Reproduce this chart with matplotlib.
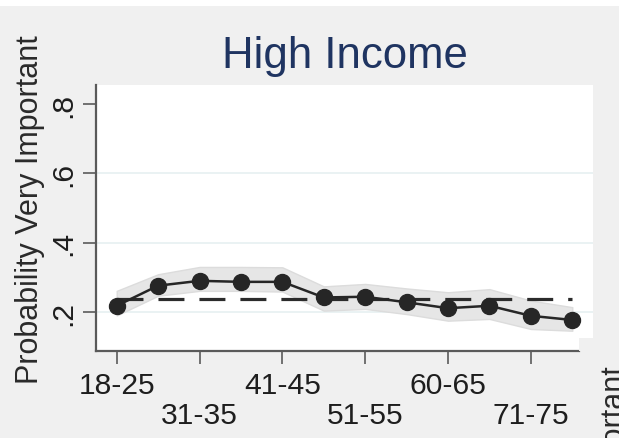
import matplotlib
matplotlib.use("Agg")
import matplotlib.pyplot as plt
from matplotlib.patches import Rectangle
from matplotlib.transforms import ScaledTranslation

plt.rcParams['font.family'] = ['Liberation Sans', 'DejaVu Sans']

# age groups (x positions are just the index)
age_groups = ["18-25", "26-30", "31-35", "36-40", "41-45", "46-50",
              "51-55", "56-59", "60-65", "66-70", "71-75", "76+"]
prob = [0.218, 0.276, 0.290, 0.287, 0.287, 0.242,
        0.244, 0.228, 0.211, 0.218, 0.189, 0.177]
ci_upper = [0.261, 0.309, 0.330, 0.330, 0.329, 0.274,
            0.281, 0.268, 0.257, 0.266, 0.233, 0.214]
ci_lower = [0.190, 0.247, 0.261, 0.261, 0.259, 0.204,
            0.209, 0.194, 0.175, 0.180, 0.151, 0.146]
mean_prob = 0.237

tick_idx = [0, 2, 4, 6, 8, 10]
tick_labels = ["18-25", "31-35", "41-45", "51-55", "60-65", "71-75"]
y_ticks = [0.2, 0.4, 0.6, 0.8]
y_tick_labels = [".2", ".4", ".6", ".8"]

bg = "#f0f0f0"
W, H = 619, 439

fig = plt.figure(figsize=(W / 100, H / 100), dpi=100, facecolor=bg)
ax = fig.add_axes([96 / W, 1 - 352 / H, (593 - 96) / W, (352 - 86) / H])
ax.set_facecolor("white")

x = list(range(len(age_groups)))

# confidence band
ax.fill_between(x, ci_lower, ci_upper, color="#e6e6e6", edgecolor="#dcdcdc",
                linewidth=1, zorder=2)
# overall mean as dashed line
ax.plot([x[0], x[-1]], [mean_prob, mean_prob], color="#2b2b2b", lw=2.3,
        dashes=(18.7 / 2.3, 10.8 / 2.3), zorder=3)
# predicted probabilities
ax.plot(x, prob, color="#262626", lw=1.8, marker="o", markersize=11.5,
        zorder=4)

for yv in [0.2, 0.4, 0.6]:
    ax.axhline(yv, color="#e6f0f1", lw=1.2, zorder=1)

ax.set_xlim(-0.5, 11.5)
ax.set_ylim(0.0875, 0.855)

for s in ["top", "right"]:
    ax.spines[s].set_visible(False)
for s in ["left", "bottom"]:
    ax.spines[s].set_color("#5a5a5a")
    ax.spines[s].set_linewidth(1.6)
ax.spines["bottom"].set_bounds(-0.5, 11.17)

ax.set_xticks(tick_idx)
ax.set_xticklabels(tick_labels, fontsize=21.6, color="#1e1e1e")
ax.set_yticks(y_ticks)
ax.set_yticklabels(y_tick_labels, fontsize=21.6, color="#1e1e1e",
                   rotation=90, va="center")
ax.tick_params(axis="both", length=9.4, width=1.2, color="#5a5a5a")
ax.tick_params(axis="x", pad=5)
ax.tick_params(axis="y", pad=4)

# staggered x labels: every second one goes down a row
for i, lab in enumerate(ax.get_xticklabels()):
    if i % 2 == 1:
        lab.set_transform(lab.get_transform() +
                          ScaledTranslation(0, -0.30, fig.dpi_scale_trans))

ax.set_ylabel("Probability Very Important", fontsize=22, color="#2a2a2a")
ax.yaxis.set_label_coords((45 - 96) / (593 - 96), 0.5 + (219 - 209.5) / (352 - 86))

fig.text(345 / W, 1 - 68 / H, "High Income", fontsize=31.5, color="#1f3461",
         ha="center", va="baseline")

# white strip at the top, grey notch at the bottom right of the plot
fig.patches.append(Rectangle((0, 1 - 7 / H), 1, 7 / H, transform=fig.transFigure,
                             facecolor="white", edgecolor="none", zorder=5))
fig.patches.append(Rectangle((579 / W, 1 - 352 / H), 14 / W, 13 / H,
                             transform=fig.transFigure, facecolor=bg,
                             edgecolor="none", zorder=5))

# label of the neighbouring panel, cut off by the edge
fig.text(600 / W, 1 - 366 / H, "Probability Very Important", fontsize=22,
         color="#2a2a2a", rotation=90, ha="left", va="top")

fig.savefig("out.png", dpi=100, facecolor=bg)
